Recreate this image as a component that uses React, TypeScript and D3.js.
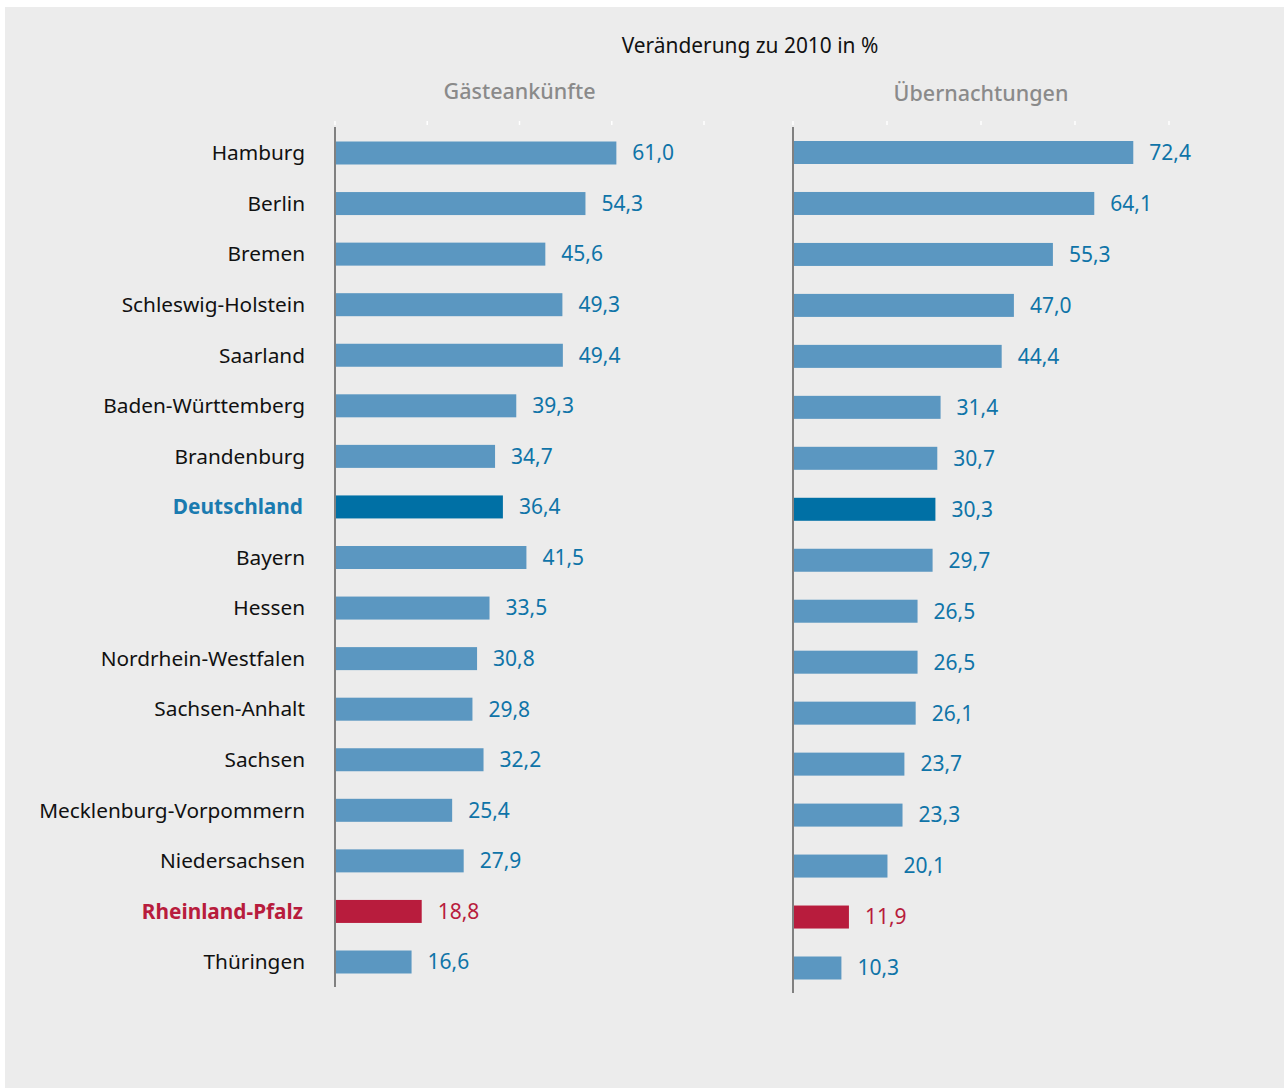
import React from "react";
import * as d3 from "d3";

const categories = [
  "Hamburg", "Berlin", "Bremen", "Schleswig-Holstein", "Saarland", "Baden-Württemberg",
  "Brandenburg", "Deutschland", "Bayern", "Hessen", "Nordrhein-Westfalen", "Sachsen-Anhalt",
  "Sachsen", "Mecklenburg-Vorpommern", "Niedersachsen", "Rheinland-Pfalz", "Thüringen",
];
const gaesteankuenfte = [61.0, 54.3, 45.6, 49.3, 49.4, 39.3, 34.7, 36.4, 41.5, 33.5, 30.8, 29.8, 32.2, 25.4, 27.9, 18.8, 16.6];
const uebernachtungen = [72.4, 64.1, 55.3, 47.0, 44.4, 31.4, 30.7, 30.3, 29.7, 26.5, 26.5, 26.1, 23.7, 23.3, 20.1, 11.9, 10.3];
const xTicks = [0, 20, 40, 60, 80];
const title = "Veränderung zu 2010 in %";
const panelTitles = ["Gästeankünfte", "Übernachtungen"];

const FONT = "'Noto Sans', sans-serif";
const BAR = "#5b97c1";
const DE_BAR = "#0070a5";
const RP = "#b81c3d";
const LABEL_BLUE = "#0f74a8";

const fmt = (v: number) => v.toFixed(1).replace(".", ",");

function barColor(c: string) {
  if (c === "Deutschland") return DE_BAR;
  if (c === "Rheinland-Pfalz") return RP;
  return BAR;
}
function valColor(c: string) {
  return c === "Rheinland-Pfalz" ? RP : LABEL_BLUE;
}

function Panel({ values, x0, x1, y0, y1, axisTop, axisBottom, title, titleY }: any) {
  const x = d3.scaleLinear().domain([0, 80]).range([x0, x1]);
  const y = d3.scalePoint<string>().domain(categories).range([y0, y1]);
  const bh = 23;
  return (
    <g>
      <text x={(x(0) + x(80)) / 2} y={titleY} textAnchor="middle" fontSize={21.5} fontWeight={500} fill="#8a8a8a" fontFamily={FONT}>
        {title}
      </text>
      {xTicks.map((t) => (
        <line key={t} x1={x(t)} x2={x(t)} y1={axisTop - 6} y2={axisTop - 2} stroke="#ffffff" strokeWidth={1.5} />
      ))}
      {categories.map((c, i) => (
        <g key={c}>
          <rect x={x(0)} y={(y(c) as number) - bh / 2} width={x(values[i]) - x(0)} height={bh} fill={barColor(c)} />
          <text
            x={x(values[i]) + 16}
            y={y(c) as number}
            dy="0.35em"
            fontSize={21}
            fill={valColor(c)}
            fontFamily={FONT}
          >
            {fmt(values[i])}
          </text>
        </g>
      ))}
      <line x1={x(0)} x2={x(0)} y1={axisTop} y2={axisBottom} stroke="#808080" strokeWidth={2} />
    </g>
  );
}

export default function App() {
  const yL = d3.scalePoint<string>().domain(categories).range([153, 962]);
  return (
    <div style={{ position: "absolute", left: 0, top: 0 }}>
      <svg width={1284} height={1088} style={{ display: "block" }}>
        <rect x={5} y={7} width={1279} height={1081} fill="#ececec" />
        <text x={750} y={53} textAnchor="middle" fontSize={20.9} fill="#111" fontFamily={FONT}>
          {title}
        </text>
        <Panel values={gaesteankuenfte} x0={335} x1={704} y0={153} y1={962} axisTop={127} axisBottom={987} title={panelTitles[0]} titleY={99} />
        <Panel values={uebernachtungen} x0={793} x1={1169} y0={152.5} y1={968} axisTop={127} axisBottom={993} title={panelTitles[1]} titleY={101} />
        {categories.map((c) => {
          const special = c === "Deutschland" || c === "Rheinland-Pfalz";
          return (
            <text
              key={c}
              x={special ? 303 : 305}
              y={yL(c) as number}
              dy="0.35em"
              textAnchor="end"
              fontSize={20.8}
              fontWeight={special ? "bold" : "normal"}
              fill={c === "Deutschland" ? "#1a7bb0" : c === "Rheinland-Pfalz" ? RP : "#111"}
              fontFamily={FONT}
            >
              {c}
            </text>
          );
        })}
      </svg>
    </div>
  );
}
